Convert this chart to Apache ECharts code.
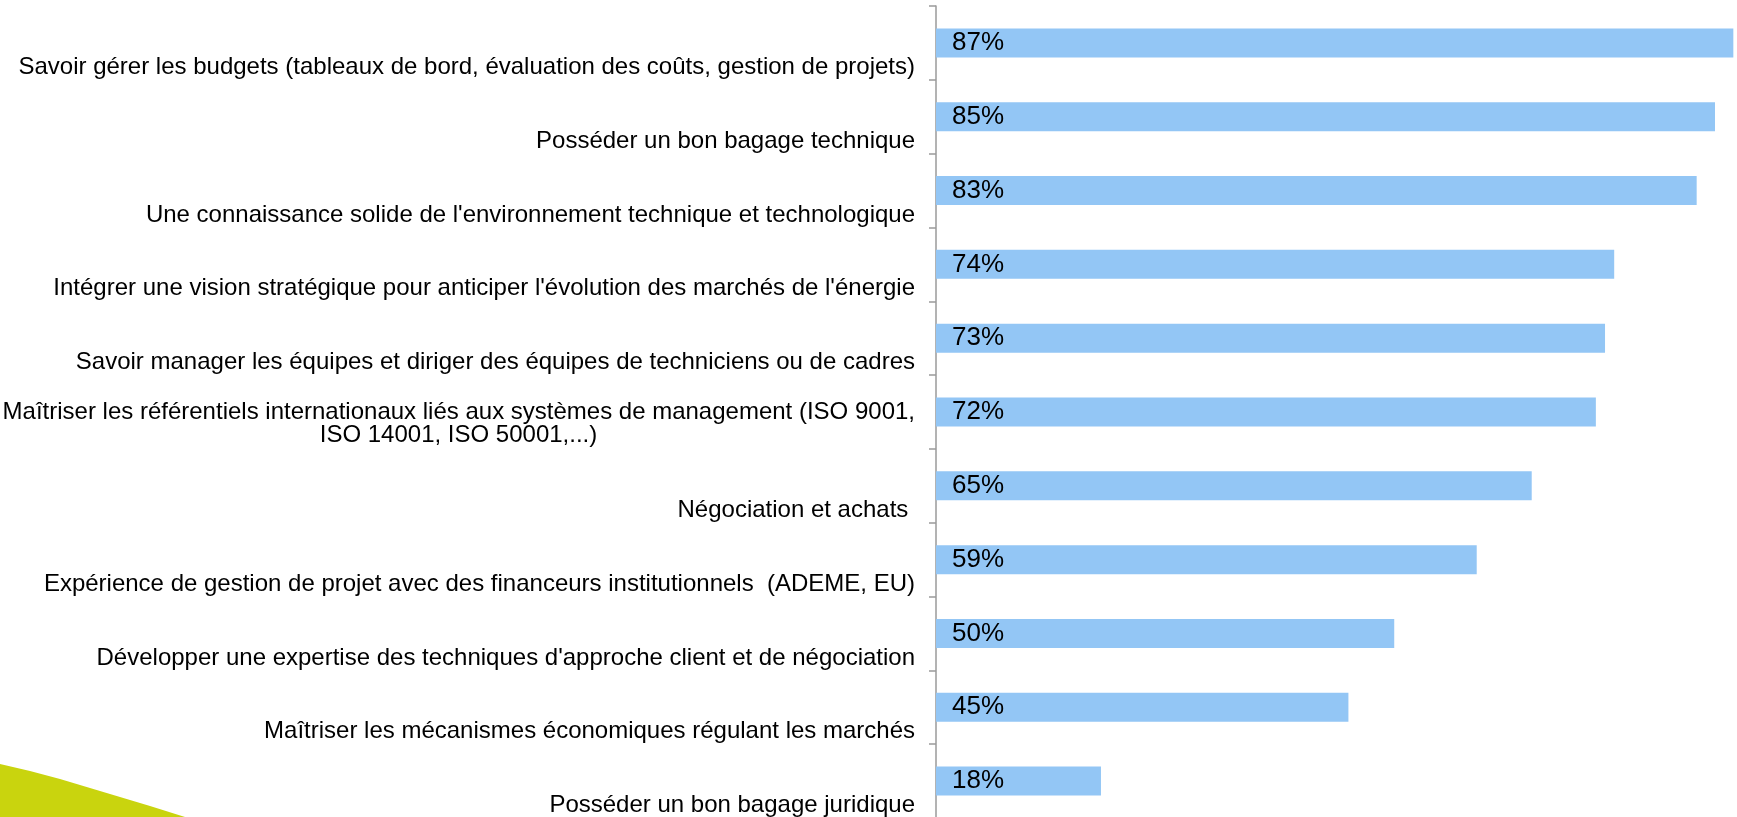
<!DOCTYPE html>
<html>
<head>
<meta charset="utf-8">
<script src="https://cdn.jsdelivr.net/npm/echarts@6/dist/echarts.min.js"></script>
<style>
  html, body { margin: 0; padding: 0; background: #fff; }
  #chart { width: 1737px; height: 817px; }
</style>
</head>
<body>
<div id="chart"></div>
<script>
// categories, top to bottom
const skills = [
  'Savoir gérer les budgets (tableaux de bord, évaluation des coûts, gestion de projets)',
  'Posséder un bon bagage technique',
  'Une connaissance solide de l\'environnement technique et technologique',
  'Intégrer une vision stratégique pour anticiper l\'évolution des marchés de l\'énergie',
  'Savoir manager les équipes et diriger des équipes de techniciens ou de cadres',
  'Maîtriser les référentiels internationaux liés aux systèmes de management (ISO 9001,\nISO 14001, ISO 50001,...)',
  'Négociation et achats ',
  'Expérience de gestion de projet avec des financeurs institutionnels  (ADEME, EU)',
  'Développer une expertise des techniques d\'approche client et de négociation',
  'Maîtriser les mécanismes économiques régulant les marchés',
  'Posséder un bon bagage juridique'
]
const shares = [87, 85, 83, 74, 73, 72, 65, 59, 50, 45, 18]

const FONT = '"Liberation Sans", Arial, sans-serif'
const LABEL_SIZE = 24

// width of the first line of the wrapped label, so the 2nd line can be centred under it
function lineWidth (txt) {
  const ctx = document.createElement('canvas').getContext('2d')
  ctx.font = LABEL_SIZE + 'px ' + FONT
  return ctx.measureText(txt).width
}
const wrapped = skills.find(s => s.indexOf('\n') > -1).split('\n')
const firstW = Math.ceil(lineWidth(wrapped[0]))

const chart = echarts.init(document.getElementById('chart'))

const option = {
  animation: false,
  textStyle: { fontFamily: FONT },
  grid: {
    left: 936,
    right: 0,
    top: 6,
    height: 812,
    containLabel: false,
    outerBoundsMode: 'none'
  },
  // green swoosh of the slide background, bottom-left corner
  graphic: [{
    type: 'polygon',
    z: -1,
    shape: {
      points: [[0, 764], [30, 771], [60, 779], [90, 788], [120, 797], [150, 806], [185, 817], [0, 817]]
    },
    style: { fill: '#c9d40e' }
  }],
  xAxis: {
    type: 'value',
    min: 0,
    max: 87.4,
    show: false
  },
  yAxis: {
    type: 'category',
    inverse: true,
    data: skills,
    axisLine: { show: true, lineStyle: { color: '#9a9a9a', width: 1.5 } },
    axisTick: { show: true, length: 7, lineStyle: { color: '#9a9a9a', width: 1.5 } },
    axisLabel: {
      interval: 0,
      margin: 21,
      align: 'right',
      verticalAlign: 'middle',
      color: '#000',
      fontSize: LABEL_SIZE,
      fontFamily: FONT,
      formatter: function (v) {
        const parts = v.split('\n')
        if (parts.length === 1) return '{s|' + v + '}'
        // blank first line keeps the first text line on the band centre
        return '{gap| }\n{m1|' + parts[0] + '}\n{m2|' + parts[1] + '}'
      },
      rich: {
        s: { fontSize: LABEL_SIZE, fontFamily: FONT, color: '#000', lineHeight: 27, padding: [49, 0, 0, 0] },
        gap: { fontSize: LABEL_SIZE, fontFamily: FONT, lineHeight: 23 },
        m1: { fontSize: LABEL_SIZE, fontFamily: FONT, color: '#000', lineHeight: 23 },
        m2: { fontSize: LABEL_SIZE, fontFamily: FONT, color: '#000', lineHeight: 23, width: firstW, align: 'center' }
      }
    },
    splitLine: { show: false }
  },
  series: [{
    type: 'bar',
    data: shares,
    barWidth: 29,
    itemStyle: { color: '#93c6f5' },
    label: {
      show: true,
      position: 'insideLeft',
      distance: 16,
      color: '#000',
      fontSize: 26,
      fontFamily: FONT,
      formatter: '{c}%'
    }
  }]
}

chart.setOption(option)
</script>
</body>
</html>
